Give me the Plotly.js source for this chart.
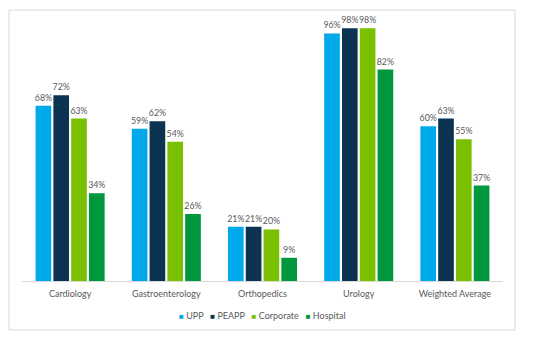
<!DOCTYPE html>
<html>
<head>
<meta charset="utf-8">
<script src="https://cdn.plot.ly/plotly-3.0.1.min.js"></script>
<style>html,body{margin:0;padding:0;background:#fff;}#chart{width:550px;height:340px;}</style>
</head>
<body>
<div id="chart"></div>
<script>
const categories = ["Cardiology", "Gastroenterology", "Orthopedics", "Urology", "Weighted Average"];
const seriesNames = ["UPP", "PEAPP", "Corporate", "Hospital"];
const upp = [0.68, 0.59, 0.21, 0.96, 0.60];
const peapp = [0.72, 0.62, 0.21, 0.98, 0.63];
const corporate = [0.63, 0.54, 0.20, 0.98, 0.55];
const hospital = [0.34, 0.26, 0.09, 0.82, 0.37];
const colors = ["#00A9EA", "#0D3352", "#79C000", "#00983F"];

const allSeries = [upp, peapp, corporate, hospital];
const fontFam = "Lato, 'Open Sans', sans-serif";
const traces = allSeries.map((vals, i) => ({
  type: "bar",
  name: seriesNames[i],
  x: categories,
  y: vals,
  marker: {color: colors[i]},
  text: vals.map(v => Math.round(v * 100) + "%"),
  textposition: "outside",
  constraintext: "none",
  cliponaxis: false,
  textfont: {family: fontFam, size: 8.8, color: "#595959"},
  hoverinfo: "skip",
  showlegend: false
}));

const nb = "\u00A0";
const legendText = seriesNames.map((n, i) =>
  "<span style='color:" + colors[i] + ";font-size:8px'>■</span>" + nb + n
).join(nb + nb + nb);

const layout = {
  width: 550, height: 340,
  margin: {l: 22, r: 47, t: 18, b: 59},
  paper_bgcolor: "#fff", plot_bgcolor: "#fff",
  barmode: "group",
  bargap: 0.26,
  bargroupgap: 0.12,
  showlegend: false,
  xaxis: {showgrid: false, zeroline: false, showline: true, linecolor: "#d9d9d9", linewidth: 1,
          ticks: "", ticklabelstandoff: 4, tickfont: {family: fontFam, size: 9, color: "#595959"}},
  yaxis: {range: [0, 1.02], visible: false, showgrid: false, zeroline: false, fixedrange: true},
  font: {family: fontFam, color: "#595959"},
  annotations: [{xref: "paper", yref: "paper", x: 0.5, y: -0.133, xanchor: "center", yanchor: "middle",
                 showarrow: false, text: legendText, font: {family: fontFam, size: 9, color: "#595959"}}],
  shapes: [{type: "rect", xref: "paper", yref: "paper", x0: -0.027, x1: 1.025, y0: -0.186, y1: 1.03,
            line: {color: "#d9d9d9", width: 1}, fillcolor: "rgba(0,0,0,0)", layer: "below"}]
};

Plotly.newPlot("chart", traces, layout, {displayModeBar: false, staticPlot: true});
</script>
</body>
</html>
